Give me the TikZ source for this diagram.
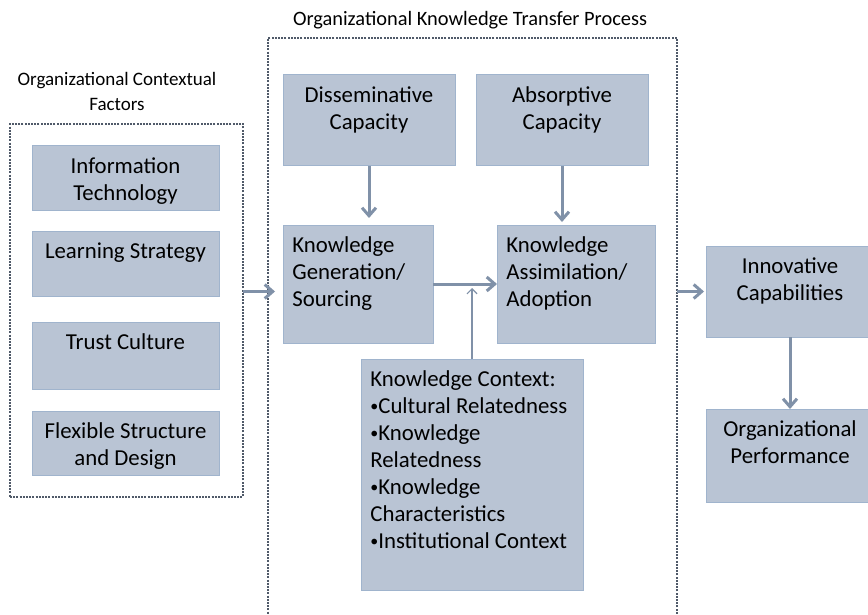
\documentclass[tikz,border=0pt]{standalone}
\usepackage{fontspec}
\setmainfont{Carlito}
\usepackage{xcolor}
\definecolor{boxblue}{RGB}{185,196,212}
\definecolor{boxedge}{RGB}{160,180,205}
\definecolor{arrowgray}{RGB}{128,145,168}
\definecolor{dotgray}{RGB}{80,90,105}
\usetikzlibrary{arrows.meta,positioning}
\newcommand{\kbul}{\raisebox{0.12em}{\scalebox{0.7}{•}}}

\begin{document}
\begin{tikzpicture}[
    x=0.5pt, y=-0.5pt,
    font=\fontsize{11.4}{13.5}\selectfont,
    box/.style={rectangle, draw=boxedge, line width=0.5pt, fill=boxblue, inner sep=0pt, outer sep=0pt},
    group/.style={rectangle, draw=dotgray, line width=1.3pt, dash pattern=on 1pt off 0.6pt, inner sep=0pt, outer sep=0pt},
    ttl/.style={align=center, font=\fontsize{10.2}{12.5}\selectfont},
    ctext/.style={label={[anchor=north, yshift=-5.8pt, inner sep=0pt, align=center]north:{#1}}},
    ltext/.style={label={[anchor=north west, xshift=4.5pt, yshift=-5.8pt, inner sep=0pt, align=left]north west:{#1}}},
    arrow/.style={-{Straight Barb[length=4pt,width=7pt]}, line width=1.5pt, draw=arrowgray},
    thinarrow/.style={-{Straight Barb[length=2.5pt,width=5pt]}, line width=0.6pt, draw=arrowgray}
]
\clip (0,0) rectangle (868,615);

% Groups
\node[group, minimum width=116.5pt, minimum height=186.5pt] (fac) at (126.5,310.5) {};
\node[ttl, font=\fontsize{9.5}{12.5}\selectfont] (facttl) at (117,91) {Organizational Contextual\\Factors};
\node[group, minimum width=204.5pt, minimum height=301pt] (ktp) at (472.5,339) {};
\node[ttl] (ktpttl) at (470,20) {Organizational Knowledge Transfer Process};

% Contextual factors
\node[box, minimum width=93.5pt, minimum height=32pt, ctext={Information\\Technology}] (it) at (125.5,178) {};
\node[box, minimum width=93.5pt, minimum height=32.5pt, below=10.5pt of it, ctext={Learning Strategy}] (ls) {};
\node[box, minimum width=93.5pt, minimum height=33.5pt, below=13pt of ls, ctext={Trust Culture}] (tc) {};
\node[box, minimum width=93.5pt, minimum height=32pt, below=11pt of tc, ctext={Flexible Structure\\and Design}] (fs) {};

% Transfer process
\node[box, minimum width=86pt, minimum height=45.5pt, ctext={Disseminative\\Capacity}] (ds) at (369,120.5) {};
\node[box, minimum width=86pt, minimum height=45.5pt, right=10.5pt of ds, ctext={Absorptive\\Capacity}] (ab) {};
\node[box, minimum width=75pt, minimum height=59pt, ltext={Knowledge\\Generation/\\Sourcing}] (kg) at (358,284) {};
\node[box, minimum width=79pt, minimum height=59pt, ltext={Knowledge\\Assimilation/\\Adoption}] (ka) at (576,284) {};
\node[box, minimum width=111pt, minimum height=115.5pt, ltext={Knowledge Context:\\\kbul Cultural Relatedness\\\kbul Knowledge\\Relatedness\\\kbul Knowledge\\Characteristics\\\kbul Institutional Context}] (kc) at (472,474.5) {};

% Outcomes
\node[box, minimum width=84pt, minimum height=45.5pt, ctext={Innovative\\Capabilities}] (ic) at (790,291.5) {};
\node[box, minimum width=84pt, minimum height=46.5pt, below=36pt of ic, ctext={Organizational\\Performance}] (op) {};

% Arrows
\draw[arrow, shorten >=-3.5pt] (fac.east |- ic) -- (ktp.west |- ic);
\draw[arrow, shorten >=3.5pt] (ds.south) -- (ds.south |- kg.north);
\draw[arrow, shorten >=1.5pt] (ab.south) -- (ab.south |- ka.north);
\draw[arrow] (kg.east) -- (ka.west);
\draw[thinarrow, shorten >=2pt] (kc.north) -- (kc.north |- ka);
\draw[arrow, shorten >=1pt] (ktp.east |- ic) -- (ic.west);
\draw[arrow] (ic.south) -- (op.north);
\end{tikzpicture}
\end{document}
